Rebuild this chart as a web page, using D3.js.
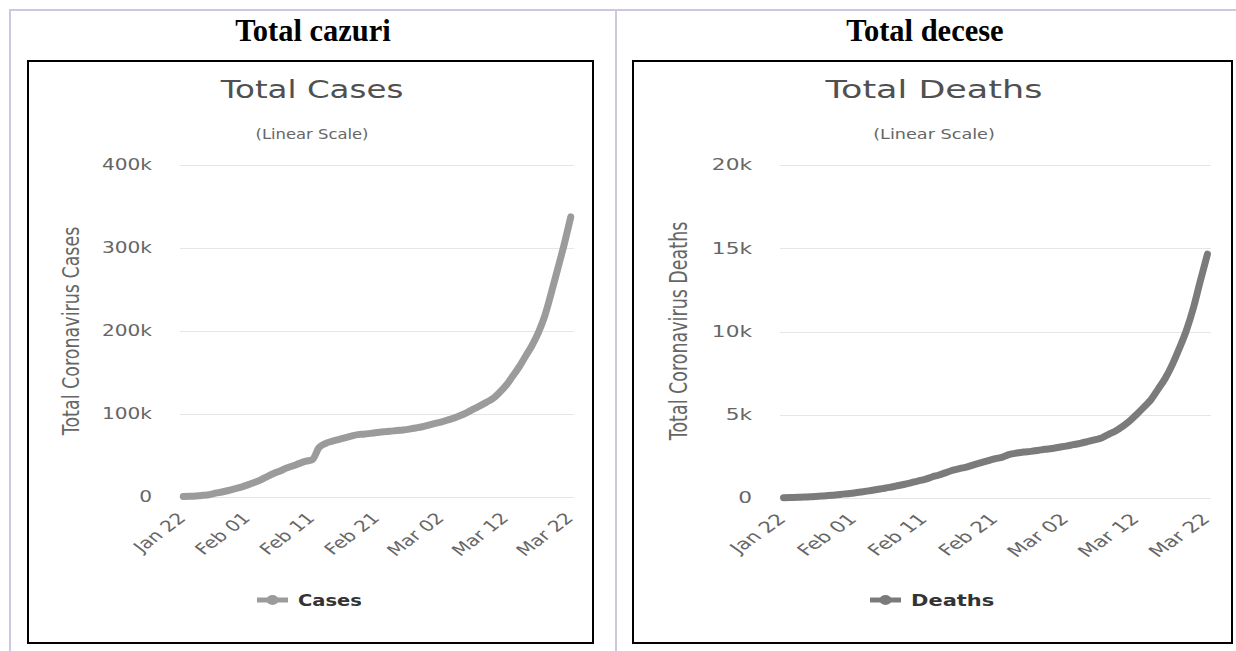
<!DOCTYPE html>
<html lang="ro">
<head>
<meta charset="UTF-8">
<title>Total cazuri / Total decese</title>
<style>
    body { margin: 0; background: #fff; }
    svg { display: block; }
    .hdr { font-family: "Liberation Serif", "Times New Roman", serif; font-weight: bold; font-size: 30.5px; fill: #000; }
    .ctitle { font-family: "DejaVu Sans", sans-serif; font-size: 25px; fill: #505050; }
    .csub { font-family: "DejaVu Sans", sans-serif; font-size: 14.5px; fill: #666; }
    .ytitle { font-family: "DejaVu Sans", sans-serif; font-size: 17.5px; fill: #666; }
    .axis text { font-family: "DejaVu Sans", sans-serif; font-size: 15.5px; fill: #666; }
    .axis line { stroke: #e6e6e6; shape-rendering: crispEdges; }
    .legend text { font-family: "DejaVu Sans", sans-serif; font-size: 15px; font-weight: bold; fill: #333; }
</style>
</head>
<body>
<svg id="page" width="1236" height="651"></svg>
<script src="https://d3js.org/d3.v7.min.js"></script>
<script>
    var headers = ["Total cazuri", "Total decese"];
    var chartTitles = ["Total Cases", "Total Deaths"];
    var axisTitles = ["Total Coronavirus Cases", "Total Coronavirus Deaths"];
    var seriesNames = ["Cases", "Deaths"];
    var tickLabels = ["Jan 22", "Feb 01", "Feb 11", "Feb 21", "Mar 02", "Mar 12", "Mar 22"];
    var casesTicks = [0, 100000, 200000, 300000, 400000];
    var deathsTicks = [0, 5000, 10000, 15000, 20000];

    // one value per day, Jan 22 .. Mar 22
    var days = d3.timeDay.range(new Date(2020, 0, 22), new Date(2020, 2, 23));

    var totalCases = [580, 845, 1317, 2015, 2800, 4581, 6058, 7813, 9823, 11950,
        14553, 17391, 20630, 24545, 28266, 31439, 34876, 37552, 40553, 43099,
        45134, 59287, 64438, 67100, 69197, 71329, 73332, 75184, 75700, 76677,
        77673, 78651, 79205, 80087, 80828, 81820, 83112, 84615, 86604, 88585,
        90443, 93016, 95314, 98425, 102050, 106099, 109991, 114381, 118948, 126214,
        134576, 145483, 156653, 169593, 182490, 198238, 218822, 246417, 275432, 305031,
        337500];

    var totalDeaths = [17, 25, 41, 56, 80, 106, 132, 170, 213, 259,
        304, 362, 426, 492, 565, 638, 724, 813, 910, 1018,
        1115, 1261, 1383, 1526, 1669, 1775, 1873, 2009, 2126, 2247,
        2360, 2460, 2618, 2699, 2763, 2800, 2858, 2923, 2977, 3050,
        3117, 3202, 3285, 3387, 3494, 3599, 3827, 4025, 4296, 4628,
        5032, 5461, 5903, 6526, 7170, 7989, 8968, 10046, 11401, 13062,
        14652];

    var parseTick = d3.timeParse("%b %d %Y");

    var svg = d3.select("#page");

    /* the lavender table lines */
    svg.append("path")
        .attr("d", "M10,651V10H1236M616,10V651")
        .attr("fill", "none")
        .attr("stroke", "#d0c6df")
        .attr("stroke-width", 2);

    // the chart pictures were stretched sideways, the right one a bit more (k)
    var panels = [
        {k: 1.3, cx: 313, box: [28, 61, 565, 582], plot: [180, 574, 165, 497], titleX: 312, yTitleX: 79,
            legendX: 257, values: totalCases, ticks: casesTicks, color: "#9b9b9b"},
        {k: 1.4, cx: 925, box: [633, 61, 599, 582], plot: [780, 1211, 165, 498], titleX: 934, yTitleX: 687,
            legendX: 870, values: totalDeaths, ticks: deathsTicks, color: "#7b7b7b"}
    ];

    function stretchedText(g, x, y, txt, cls, k, anchor, rot) {
        return g.append("text")
            .attr("class", cls)
            .attr("text-anchor", anchor || "middle")
            .attr("transform", "translate(" + x + "," + y + ") scale(" + k + ",1)" + (rot ? " rotate(" + rot + ")" : ""))
            .text(txt);
    }

    panels.forEach(function(p, n) {
        var g = svg.append("g");

        stretchedText(g, p.cx, 41, headers[n], "hdr", 1);

        g.append("rect")
            .attr("x", p.box[0]).attr("y", p.box[1])
            .attr("width", p.box[2]).attr("height", p.box[3])
            .attr("fill", "none")
            .attr("stroke", "#000")
            .attr("stroke-width", 2);

        stretchedText(g, p.titleX, 98, chartTitles[n], "ctitle", p.k);
        stretchedText(g, p.titleX, 139, "(Linear Scale)", "csub", p.k * 0.87);
        stretchedText(g, p.yTitleX, 331, axisTitles[n], "ytitle", p.k, "middle", -90);

        var x = d3.scalePoint()
            .domain(days)
            .range([p.plot[0], p.plot[1]])
            .padding(0.5);

        var y = d3.scaleLinear()
            .domain([0, d3.max(p.ticks)])
            .range([p.plot[3], p.plot[2]]);

        // y axis with grid lines
        g.append("g")
            .attr("class", "axis")
            .attr("transform", "translate(" + p.plot[0] + ",0)")
            .call(d3.axisLeft(y)
                .tickValues(p.ticks)
                .tickSize(-(p.plot[1] - p.plot[0]))
                .tickFormat(function(d) { return d === 0 ? "0" : (d / 1000) + "k"; }))
            .call(function(a) { a.select(".domain").remove(); })
            .selectAll("text")
            .attr("x", 0)
            .attr("transform", "translate(-28,0) scale(" + p.k + ",1)");

        // x axis, labels only
        var tickDays = tickLabels.map(function(t) { return parseTick(t + " 2020"); });
        var xAxis = g.append("g")
            .attr("class", "axis")
            .attr("transform", "translate(0," + p.plot[3] + ")")
            .call(d3.axisBottom(x)
                .tickValues(tickDays)
                .tickSize(0)
                .tickFormat(function(d, i) { return tickLabels[i]; }));
        xAxis.select(".domain").remove();
        xAxis.selectAll("text")
            .attr("x", 0).attr("y", 0).attr("dy", 0)
            .style("text-anchor", "end")
            .attr("transform", "translate(3,22) scale(" + p.k + ",1) rotate(-45)");

        var line = d3.line()
            .x(function(d, i) { return x(days[i]); })
            .y(function(d) { return y(d); })
            .curve(d3.curveMonotoneX);

        g.append("path")
            .datum(p.values)
            .attr("fill", "none")
            .attr("stroke", p.color)
            .attr("stroke-width", 7)
            .attr("stroke-linejoin", "round")
            .attr("stroke-linecap", "round")
            .attr("d", line);

        // legend
        var lg = g.append("g").attr("class", "legend");
        lg.append("line")
            .attr("x1", p.legendX).attr("x2", p.legendX + 31)
            .attr("y1", 600).attr("y2", 600)
            .attr("stroke", p.color)
            .attr("stroke-width", 5);
        lg.append("ellipse")
            .attr("cx", p.legendX + 15.5).attr("cy", 600)
            .attr("rx", 6).attr("ry", 5)
            .attr("fill", p.color);
        stretchedText(lg, p.legendX + 41, 606, seriesNames[n], "", p.k, "start");
    });
</script>
</body>
</html>
